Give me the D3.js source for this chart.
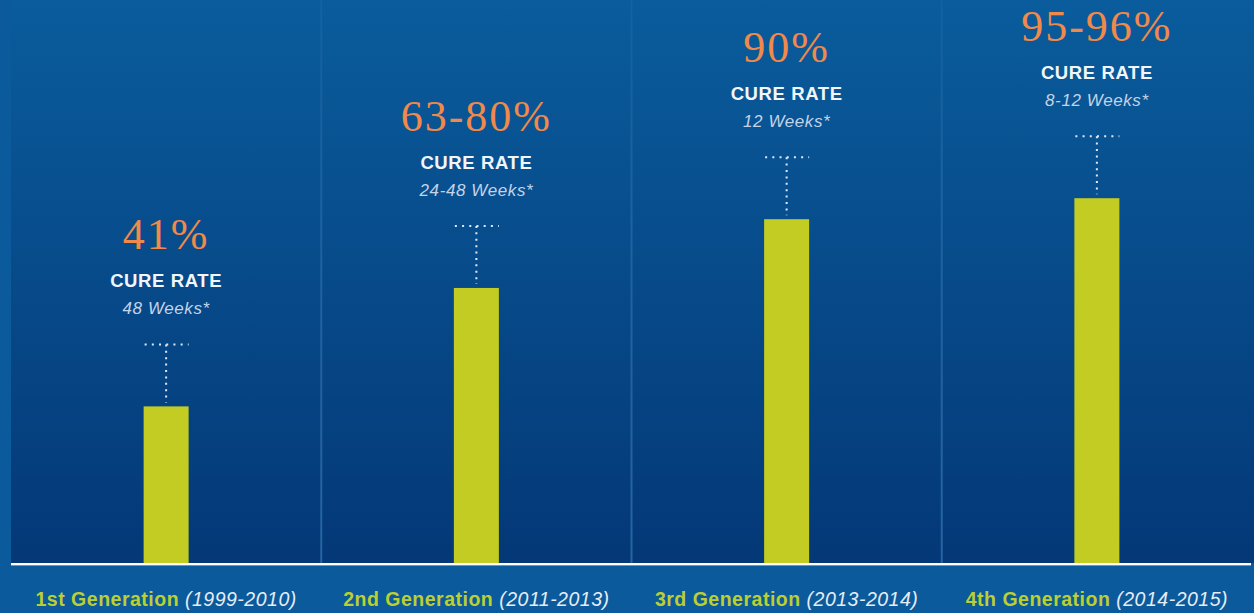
<!DOCTYPE html>
<html><head><meta charset="utf-8">
<script src="https://cdn.jsdelivr.net/npm/d3@7"></script>
<style>html,body{margin:0;padding:0;background:#0b5a9c;}svg{display:block;}</style>
</head><body>
<svg id="c" width="1254" height="613"></svg>
<script>
// ---- data ----
const categories = ["1st Generation", "2nd Generation", "3rd Generation", "4th Generation"];
const periods = ["(1999-2010)", "(2011-2013)", "(2013-2014)", "(2014-2015)"];
const rateLabels = ["41%", "63-80%", "90%", "95-96%"];
const cureRates = [41, 72, 90, 95.5];       // bar heights
const durations = ["48 Weeks*", "24-48 Weeks*", "12 Weeks*", "8-12 Weeks*"];
const subTitle = "CURE RATE";

const W = 1254, H = 613;
const left = 11, right = 1252, baseY = 563;
const svg = d3.select("#c");
const SANS = "'Liberation Sans', Arial, sans-serif";

const defs = svg.append("defs");
const g1 = defs.append("linearGradient").attr("id","bg").attr("x1",0).attr("y1",0).attr("x2",0).attr("y2",1);
g1.append("stop").attr("offset","0%").attr("stop-color","#0a5c9c");
g1.append("stop").attr("offset","100%").attr("stop-color","#043877");
const g2 = defs.append("linearGradient").attr("id","sep").attr("gradientUnits","userSpaceOnUse")
  .attr("x1",0).attr("y1",0).attr("x2",0).attr("y2",baseY);
g2.append("stop").attr("offset","0%").attr("stop-color","#3f80c0").attr("stop-opacity",0.15);
g2.append("stop").attr("offset","40%").attr("stop-color","#3f80c0").attr("stop-opacity",0.4);
g2.append("stop").attr("offset","100%").attr("stop-color","#3f80c0").attr("stop-opacity",0.6);

svg.append("rect").attr("width",W).attr("height",H).attr("fill","#0b5a9c");
svg.append("rect").attr("x",left).attr("y",0).attr("width",W-left).attr("height",baseY).attr("fill","url(#bg)");

const x = d3.scaleBand().domain(categories).range([left, right]);
const y = d3.scaleLinear().domain([0, 100]).range([baseY, baseY - 382]);
const barW = 45;
const cx = c => x(c) + x.bandwidth()/2;

// separators
svg.selectAll("line.sep").data(categories.slice(1)).join("line")
  .attr("class","sep")
  .attr("x1", c => x(c)).attr("x2", c => x(c))
  .attr("y1", 0).attr("y2", baseY)
  .attr("stroke","url(#sep)").attr("stroke-width",2);

// bars
svg.selectAll("rect.bar").data(categories).join("rect")
  .attr("class","bar")
  .attr("x", c => cx(c) - barW/2)
  .attr("y", (c,i) => y(cureRates[i]))
  .attr("width", barW)
  .attr("height", (c,i) => baseY - y(cureRates[i]))
  .attr("fill","#c3cc22");

// baseline
svg.append("line").attr("x1",left).attr("x2",1251).attr("y1",baseY+1).attr("y2",baseY+1)
  .attr("stroke","#ffffff").attr("stroke-width",2);
svg.append("line").attr("x1",left).attr("x2",1251).attr("y1",baseY+2.5).attr("y2",baseY+2.5)
  .attr("stroke","#9cc4e6").attr("stroke-width",1).attr("opacity",0.6);

const ann = svg.selectAll("g.ann").data(categories).join("g").attr("class","ann")
  .attr("transform",(c,i) => `translate(${cx(c)},${y(cureRates[i])})`);

// dotted connectors
ann.append("line").attr("x1",-barW/2+1).attr("x2",barW/2).attr("y1",-62).attr("y2",-62)
  .attr("stroke","#dfe9f5").attr("stroke-width",2).attr("stroke-dasharray","2 5.2");
ann.append("line").attr("x1",0).attr("x2",0).attr("y1",-62).attr("y2",-4)
  .attr("stroke","#dfe9f5").attr("stroke-width",2).attr("stroke-dasharray","2 4.4");

ann.append("text").attr("y",-92).attr("text-anchor","middle")
  .attr("font-family",SANS).attr("font-style","italic")
  .attr("font-size",17).attr("letter-spacing",0.6).attr("fill","#c4d3e8")
  .text((c,i) => durations[i]);
ann.append("text").attr("y",-119).attr("text-anchor","middle")
  .attr("font-family",SANS).attr("font-weight","bold")
  .attr("font-size",18.5).attr("letter-spacing",0.6).attr("fill","#f2f6fb")
  .text(subTitle);
ann.append("text").attr("y",-157).attr("text-anchor","middle")
  .attr("font-family","'Liberation Serif', 'Times New Roman', serif")
  .attr("font-size",44).attr("letter-spacing",2).attr("fill","#f0894a")
  .text((c,i) => rateLabels[i]);

// category labels
const lab = svg.selectAll("text.cat").data(categories).join("text").attr("class","cat")
  .attr("x", c => cx(c)).attr("y", 606).attr("text-anchor","middle")
  .attr("font-family",SANS).attr("font-size",19.5).attr("letter-spacing",0.5);
lab.append("tspan").attr("font-weight","bold").attr("fill","#bccf32").text(c => c + " ");
lab.append("tspan").attr("font-style","italic").attr("fill","#e6edf6").text((c,i) => periods[i]);
</script>
</body></html>
